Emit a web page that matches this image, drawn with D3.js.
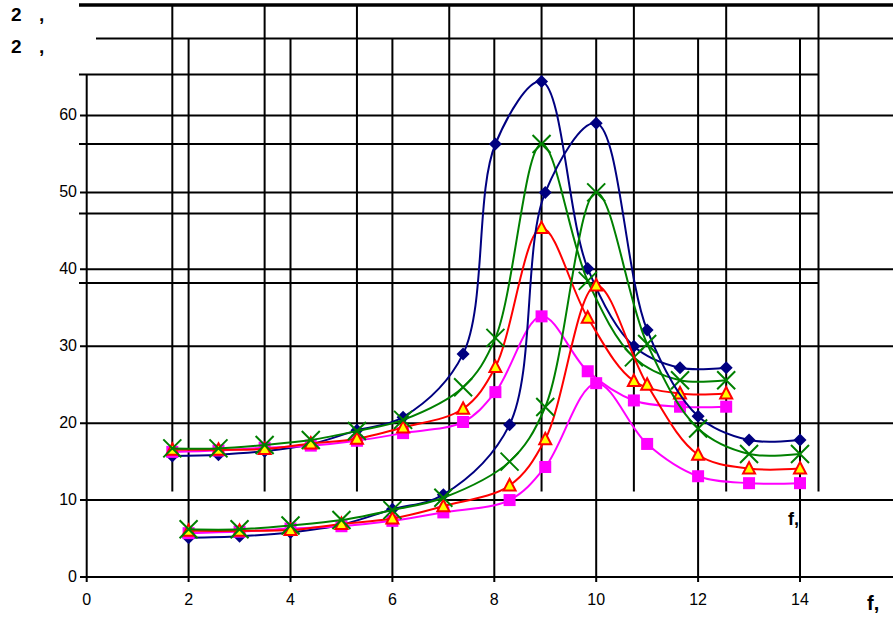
<!DOCTYPE html>
<html><head><meta charset="utf-8">
<script src="https://cdn.jsdelivr.net/npm/d3@7"></script>
<style>html,body{margin:0;padding:0;background:#fff;} svg{display:block;font-family:"Liberation Sans",Arial,sans-serif;}</style>
</head><body><svg id="c" width="893" height="619"></svg>
<script>
// ---- data ----
const xValues = [2, 3, 4, 5, 6, 7, 8.3, 9, 10, 11, 12, 13, 14];
const blueValues  = [5.1, 5.3, 5.8, 6.8, 8.8, 10.7, 19.8, 50.0, 59.0, 32.1, 20.9, 17.8, 17.8];
const pinkValues  = [5.7, 5.9, 6.3, 6.6, 7.3, 8.4, 10.0, 14.3, 25.2, 17.3, 13.1, 12.2, 12.2];
const redValues   = [6.0, 6.0, 6.1, 6.9, 7.6, 9.2, 11.9, 17.9, 37.9, 25.0, 15.9, 14.1, 14.1];
const greenValues = [6.2, 6.2, 6.7, 7.4, 8.7, 10.3, 15.0, 22.1, 50.0, 30.3, 19.3, 16.0, 16.0];
const xTickValues = [0, 2, 4, 6, 8, 10, 12, 14];
const yTickValues = [0, 10, 20, 30, 40, 50, 60];
const xGridValuesA = [2, 4, 6, 8, 10, 12, 14, 16];
const yGridValuesA = [30, 40, 50, 60];
const yLabelText = "2";
const xLabelText = "f,";

const svg = d3.select("#c");
svg.append("rect").attr("width", 893).attr("height", 619).attr("fill", "#fff");

// main chart scales
const x = d3.scaleLinear().domain([0, 14]).range([86.7, 800]);
const y = d3.scaleLinear().domain([0, 60]).range([577, 115.5]);
// second (overlaid) plot of the same data
const xA = d3.scaleLinear().domain([0, 16]).range([80, 818.5]);
const yA = d3.scaleLinear().domain([0, 70]).range([491.5, 5]);

const grid = svg.append("g").attr("stroke", "#000").attr("fill", "none");

// overlaid plot grid
grid.selectAll(".ha").data(yGridValuesA).join("line")
  .attr("x1", 79).attr("x2", xA(16)).attr("y1", d => yA(d)).attr("y2", d => yA(d)).attr("stroke-width", 2);
grid.append("line").attr("x1", 79).attr("x2", 893).attr("y1", yA(70)).attr("y2", yA(70)).attr("stroke-width", 3.5);
grid.selectAll(".va").data(xGridValuesA).join("line")
  .attr("x1", d => xA(d)).attr("x2", d => xA(d)).attr("y1", yA(70)).attr("y2", yA(0)).attr("stroke-width", 2);

// main grid
grid.selectAll(".hm").data(yTickValues).join("line")
  .attr("x1", 80).attr("x2", 893).attr("y1", d => y(d)).attr("y2", d => y(d)).attr("stroke-width", 2);
grid.append("line").attr("x1", 96).attr("x2", 893).attr("y1", y(70)).attr("y2", y(70)).attr("stroke-width", 2);
grid.selectAll(".vm").data(xTickValues.filter(d => d > 0)).join("line")
  .attr("x1", d => x(d)).attr("x2", d => x(d)).attr("y1", y(70)).attr("y2", 582).attr("stroke-width", 2);
grid.append("line").attr("x1", x(0)).attr("x2", x(0)).attr("y1", 75).attr("y2", 582).attr("stroke-width", 2);

// tick labels
svg.append("g").selectAll("text").data(yTickValues).join("text")
  .attr("x", 77).attr("y", d => y(d) + 4.5).attr("text-anchor", "end")
  .attr("font-size", 16).attr("fill", "#000").text(d => d);
svg.append("g").selectAll("text").data(xTickValues).join("text")
  .attr("x", d => x(d)).attr("y", 605).attr("text-anchor", "middle")
  .attr("font-size", 16).attr("fill", "#000").text(d => d);

// series
const series = [
  { values: blueValues,  color: "#000080", marker: "diamond" },
  { values: pinkValues,  color: "#FF00FF", marker: "square" },
  { values: redValues,   color: "#FF0000", marker: "triangle" },
  { values: greenValues, color: "#008000", marker: "x" }
];

function drawSet(sx, sy) {
  const g = svg.append("g");
  series.forEach(s => {
    const pts = xValues.map((xv, i) => [sx(xv), sy(s.values[i])]);
    g.append("path")
      .attr("d", d3.line().curve(d3.curveCatmullRom.alpha(0.5))(pts))
      .attr("fill", "none").attr("stroke", s.color).attr("stroke-width", 2);
    const mg = g.append("g");
    pts.forEach(p => {
      if (s.marker === "diamond") {
        mg.append("path").attr("transform", `translate(${p[0]},${p[1]}) rotate(45)`)
          .attr("d", "M-4.6,-4.6H4.6V4.6H-4.6Z").attr("fill", s.color);
      } else if (s.marker === "square") {
        mg.append("rect").attr("x", p[0] - 6).attr("y", p[1] - 6).attr("width", 12).attr("height", 12)
          .attr("fill", s.color);
      } else if (s.marker === "triangle") {
        mg.append("path").attr("transform", `translate(${p[0]},${p[1]})`)
          .attr("d", "M0,-6.5L6,5L-6,5Z").attr("fill", "#FFFF00")
          .attr("stroke", s.color).attr("stroke-width", 2).attr("stroke-linejoin", "miter");
      } else {
        mg.append("path").attr("transform", `translate(${p[0]},${p[1]})`)
          .attr("d", "M-9,-9L9,9M-9,9L9,-9").attr("stroke", s.color).attr("stroke-width", 2).attr("fill", "none");
      }
    });
  });
}
drawSet(xA, yA);
drawSet(x, y);

// axis titles (as they survive in the picture)
const t1 = svg.append("text").attr("font-size", 19).attr("font-weight", "bold").attr("fill", "#000");
t1.append("tspan").attr("x", 11).attr("y", 21).text(yLabelText);
t1.append("tspan").attr("x", 39).attr("y", 21).text(",");
const t2 = svg.append("text").attr("font-size", 19).attr("font-weight", "bold").attr("fill", "#000");
t2.append("tspan").attr("x", 11).attr("y", 53).text(yLabelText);
t2.append("tspan").attr("x", 39).attr("y", 53).text(",");
svg.append("text").attr("x", 788).attr("y", 525).attr("font-size", 18).attr("font-weight", "bold")
  .attr("fill", "#000").text(xLabelText);
svg.append("text").attr("x", 867).attr("y", 610).attr("font-size", 20).attr("font-weight", "bold")
  .attr("fill", "#000").text(xLabelText);
</script></body></html>
